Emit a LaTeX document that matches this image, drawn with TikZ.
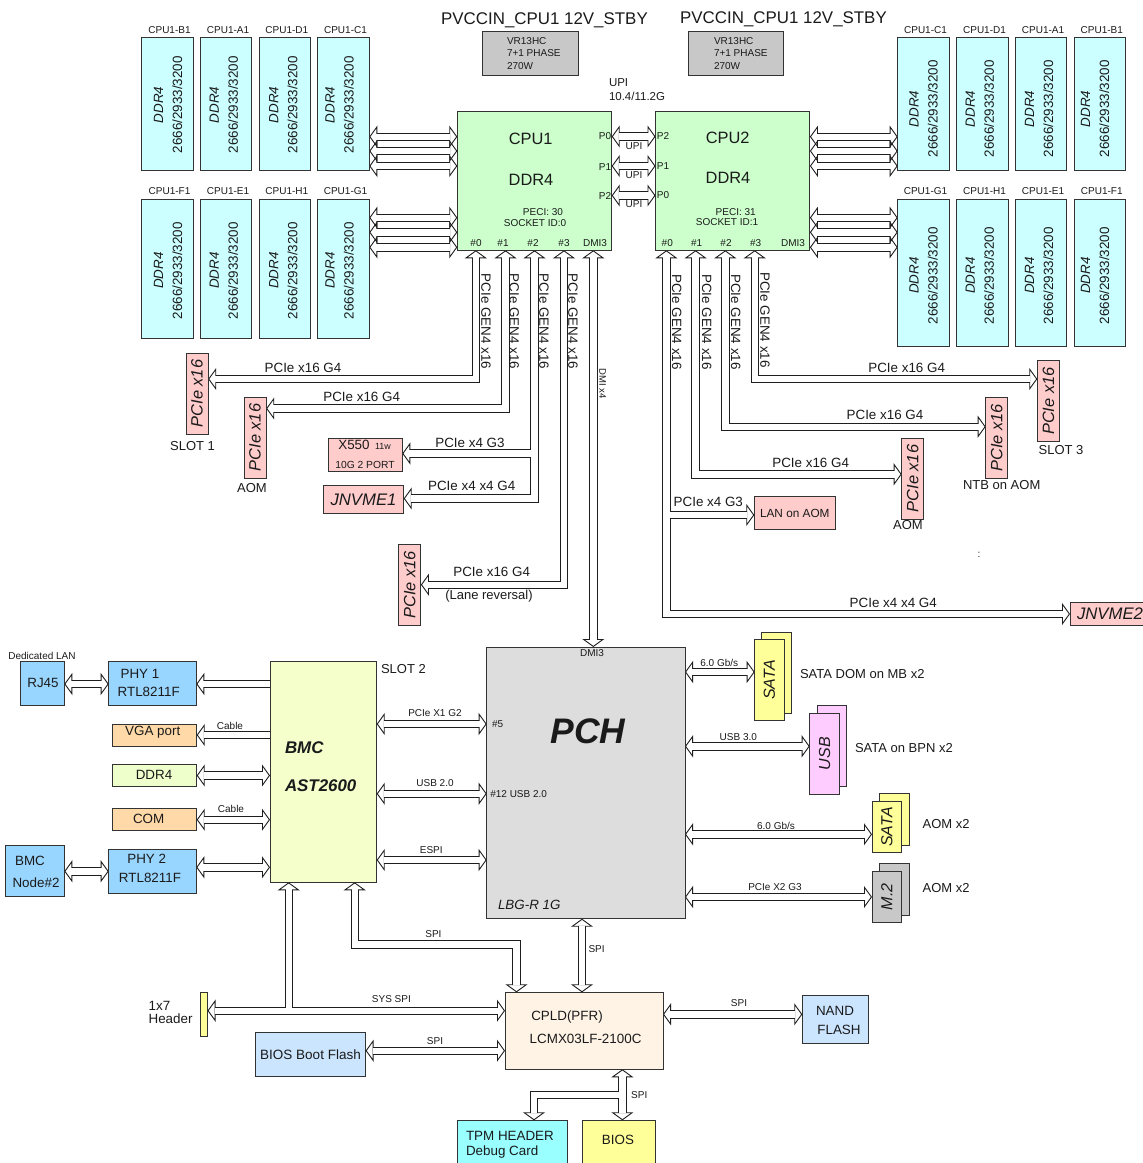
\documentclass[tikz,border=0pt]{standalone}
\usepackage{fontspec}
\setmainfont{Liberation Sans}
\usetikzlibrary{arrows.meta,backgrounds}
\definecolor{wire}{HTML}{1E1E1E}
\definecolor{edge}{HTML}{333333}
\definecolor{ink}{HTML}{1A1A1A}
\definecolor{dimmfill}{HTML}{CCFFFF}
\definecolor{cpufill}{HTML}{CCFFCC}
\definecolor{grayfill}{HTML}{C8C8C8}
\definecolor{slotfill}{HTML}{FFCCCC}
\definecolor{pchfill}{HTML}{DDDDDD}
\definecolor{bmcfill}{HTML}{F5FFCC}
\definecolor{phyfill}{HTML}{99D6FF}
\definecolor{portfill}{HTML}{FFD9A8}
\definecolor{ramfill}{HTML}{EEFFCC}
\definecolor{cpldfill}{HTML}{FFF3E6}
\definecolor{flashfill}{HTML}{CCE5FF}
\definecolor{tpmfill}{HTML}{99FFFF}
\definecolor{biosfill}{HTML}{FFFF99}
\definecolor{usbfill}{HTML}{FFCCFF}
\tikzset{
  box/.style={draw=edge, line width=.9pt, anchor=north west, inner sep=0pt, outer sep=0pt, text=ink},
  dims/.style 2 args={minimum width=#1pt, minimum height=#2pt},
  fs/.style={font=\fontsize{#1}{#1}\selectfont},
  lbl/.style={inner sep=0pt, outer sep=0pt, text=ink, fs=13.4},
  note/.style={lbl, fs=10},
  slot/.style={box, fill=slotfill, dims={22.2}{81}, font=\fontsize{16.4}{16.4}\selectfont\itshape},
  dimmtxt/.style={rotate=90, align=center, inner sep=0pt, text=ink, font=\fontsize{13.4}{19}\selectfont},
  bus/.style={<->, draw=wire, line width=8.4pt, postaction={draw=white, -, line width=6.4pt, shorten >=7pt, shorten <=7pt}},
  busto/.style={->, draw=wire, line width=8.4pt, postaction={draw=white, -, line width=6.4pt, shorten >=7pt}},
  tap/.style={->, draw=wire, line width=8.4pt, shorten <=4.2pt, postaction={draw=white, -, line width=6.4pt, shorten >=7pt, shorten <=0pt}},
}
\newcommand{\vtxt}[1]{\rotatebox{90}{#1}}
\newcommand{\dimm}[7]{%
  \node[box, fill=dimmfill, dims={51.6}{#4}] (#1) at (#2,#3) {};
  \node[dimmtxt] (#1txt) at ([xshift=#6pt,yshift=#7pt]#1.center) {\textit{DDR4}\\2666/2933/3200};
  \node[note] (#1lbl) at ([xshift=2pt,yshift=8pt]#1.north) {#5};
}

\begin{document}
\begin{tikzpicture}[x=1pt, y=-1pt, >={Triangle[open,length=8pt,width=22pt,line width=.9pt]}]
    \useasboundingbox (0,0) rectangle (1143,1163);

    % memory
    \dimm{lb}{141.7}{37.7}{132.3}{CPU1-B1}{.5}{-1}
    \dimm{la}{200.3}{37.7}{132.3}{CPU1-A1}{-2.2}{-1}
    \dimm{ld}{259}{37.7}{132.3}{CPU1-D1}{-1.4}{-1}
    \dimm{lc}{317.7}{37.7}{132.3}{CPU1-C1}{-3.8}{-1}
    \dimm{lf}{141.7}{199.3}{139.4}{CPU1-F1}{.5}{-1.7}
    \dimm{le}{200.3}{199.3}{139.4}{CPU1-E1}{-2.2}{-1.7}
    \dimm{lh}{259}{199.3}{139.4}{CPU1-H1}{-1.4}{-1.7}
    \dimm{lg}{317.7}{199.3}{139.4}{CPU1-G1}{-3.8}{-1.7}
    \dimm{rc}{897.7}{37.7}{132.3}{CPU1-C1}{0}{-5}
    \dimm{rd}{956.7}{37.7}{132.3}{CPU1-D1}{-2.7}{-5}
    \dimm{ra}{1015.3}{37.7}{132.3}{CPU1-A1}{-2}{-5}
    \dimm{rb}{1074}{37.7}{132.3}{CPU1-B1}{-4.8}{-5}
    \dimm{rg}{897.7}{199.3}{146.7}{CPU1-G1}{0}{-3}
    \dimm{rh}{956.7}{199.3}{146.7}{CPU1-H1}{-2.7}{-3}
    \dimm{re}{1015.3}{199.3}{146.7}{CPU1-E1}{-2}{-3}
    \dimm{rf}{1074}{199.3}{146.7}{CPU1-F1}{-4.8}{-3}

    % power
    \node[lbl, fs=16.9] (pwrone) at (544.5,20) {PVCCIN\_CPU1 12V\_STBY};
    \node[lbl, fs=16.9] (pwrtwo) at (783.5,19) {PVCCIN\_CPU1 12V\_STBY};
    \node[box, fill=grayfill, dims={95.3}{44}] (vrone) at (482.7,31) {};
    \node[box, fill=grayfill, dims={95.3}{44}] (vrtwo) at (688,31) {};
    \node[lbl, anchor=west, align=left, font=\fontsize{10}{12.5}\selectfont] (vronetxt) at (507,53.5) {VR13HC\\7+1 PHASE\\270W};
    \node[lbl, anchor=west, align=left, font=\fontsize{10}{12.5}\selectfont] (vrtwotxt) at (714,53.5) {VR13HC\\7+1 PHASE\\270W};
    \node[lbl, anchor=west, align=left, font=\fontsize{11.5}{14}\selectfont] (upi) at (609,90) {UPI\\10.4/11.2G};

    % sockets
    \node[box, fill=cpufill, dims={154.4}{139.3}] (cpuone) at (457.3,111) {};
    \node[box, fill=cpufill, dims={154.4}{139.3}] (cputwo) at (655.5,111) {};
    \node[lbl, fs=16.4] (cpuonea) at (530.7,139) {CPU1};
    \node[lbl, fs=16.4] (cpuoneb) at (531,180) {DDR4};
    \node[note] (cpuonec) at (543,212) {PECI: 30};
    \node[note] (cpuoned) at (535,223) {SOCKET ID:0};
    \node[lbl, fs=16.4] (cputwoa) at (727.7,138) {CPU2};
    \node[lbl, fs=16.4] (cputwob) at (728,178) {DDR4};
    \node[note] (cputwoc) at (735.7,212) {PECI: 31};
    \node[note] (cputwod) at (727,222) {SOCKET ID:1};
    \node[note] (aportz) at (476,243) {\#0};
    \node[note] (aporta) at (503,243) {\#1};
    \node[note] (aportb) at (533,243) {\#2};
    \node[note] (aportc) at (564,243) {\#3};
    \node[note] (aportd) at (595,243) {DMI3};
    \node[note] (bportz) at (667.3,243) {\#0};
    \node[note] (bporta) at (696.7,243) {\#1};
    \node[note] (bportb) at (726,243) {\#2};
    \node[note] (bportc) at (755.7,243) {\#3};
    \node[note] (bportd) at (793,243) {DMI3};
    \node[note] (apz) at (605,136) {P0};
    \node[note] (apa) at (605,167) {P1};
    \node[note] (apb) at (605,196) {P2};
    \node[note] (bpb) at (663,136) {P2};
    \node[note] (bpa) at (663,166) {P1};
    \node[note] (bpz) at (663,195) {P0};
    \node[note] (upia) at (634,146) {UPI};
    \node[note] (upib) at (634,175) {UPI};
    \node[note] (upic) at (634,204) {UPI};

    % riser labels
    \node[lbl, rotate=-90] (gena) at (486,321.5) {PCIe GEN4 x16};
    \node[lbl, rotate=-90] (genb) at (514.3,321.5) {PCIe GEN4 x16};
    \node[lbl, rotate=-90] (genc) at (544,321.5) {PCIe GEN4 x16};
    \node[lbl, rotate=-90] (gend) at (573,321.5) {PCIe GEN4 x16};
    \node[lbl, rotate=-90] (gene) at (676.7,322) {PCIe GEN4 x16};
    \node[lbl, rotate=-90] (genf) at (706.7,322) {PCIe GEN4 x16};
    \node[lbl, rotate=-90] (geng) at (735.7,322) {PCIe GEN4 x16};
    \node[lbl, rotate=-90] (genh) at (765,320) {PCIe GEN4 x16};
    \node[note, rotate=-90, fs=9.5] (dmilbl) at (602.7,383.6) {DMI x4};

    % slots, left
    \node[slot] (slota) at (186,353) {\vtxt{PCIe x16}};
    \node[slot] (slotb) at (244,397) {\vtxt{PCIe x16}};
    \node[slot] (slotc) at (398.7,544.3) {\vtxt{PCIe x16}};
    \node[box, fill=slotfill, dims={73.6}{33.3}] (xnic) at (328.7,438) {};
    \node[box, fill=slotfill, dims={80.4}{27.6}, font=\fontsize{16.7}{16.7}\selectfont\itshape] (nvmea) at (323.3,485.7) {JNVME1};
    \node[lbl] (xnica) at (354,445) {X550};
    \node[lbl, fs=8.9] (xnicb) at (383,446) {11w};
    \node[lbl, fs=10.3] (xnicc) at (365,465.3) {10G 2 PORT};
    \node[lbl, fs=13] (slotalbl) at (192.5,446) {SLOT 1};
    \node[lbl, fs=13] (slotblbl) at (252,488) {AOM};
    \node[lbl] (linka) at (303,368) {PCIe x16 G4};
    \node[lbl] (linkb) at (361.7,397) {PCIe x16 G4};
    \node[lbl] (linkc) at (470,443.3) {PCIe x4 G3};
    \node[lbl] (linkd) at (471.7,486) {PCIe x4 x4 G4};
    \node[lbl] (linke) at (491.7,572) {PCIe x16 G4};
    \node[lbl, fs=13] (lanerev) at (489,595.7) {(Lane reversal)};

    % slots, right
    \node[slot] (slotd) at (1037.3,360.7) {\vtxt{PCIe x16}};
    \node[slot] (slote) at (985.7,397.3) {\vtxt{PCIe x16}};
    \node[slot] (slotf) at (901.7,438) {\vtxt{PCIe x16}};
    \node[box, fill=slotfill, dims={81}{33}, font=\fontsize{11.8}{11.8}\selectfont] (lanaom) at (754.3,496.7) {LAN on AOM};
    \node[box, fill=slotfill, dims={80}{22.3}, font=\fontsize{16.7}{16.7}\selectfont\itshape] (nvmeb) at (1070,602.7) {JNVME2};
    \node[lbl, fs=13] (slotdlbl) at (1061,450) {SLOT 3};
    \node[lbl, fs=13] (slotelbl) at (1001.7,485.3) {NTB on AOM};
    \node[lbl, fs=13] (slotflbl) at (908,525) {AOM};
    \node[lbl] (linkf) at (906.7,368) {PCIe x16 G4};
    \node[lbl] (linkg) at (885,415.3) {PCIe x16 G4};
    \node[lbl] (linkh) at (810.7,463.3) {PCIe x16 G4};
    \node[lbl] (linki) at (708.3,502.3) {PCIe x4 G3};
    \node[lbl] (linkj) at (893.3,603.3) {PCIe x4 x4 G4};
    \node[note] (dots) at (979,555) {:};

    % chipset
    \node[box, fill=pchfill, dims={198.3}{271.7}] (pch) at (486.7,647) {};
    \node[lbl, font=\fontsize{35.5}{35.5}\selectfont\bfseries\itshape] (pchname) at (588,731) {PCH};
    \node[note] (pchdmi) at (592,653) {DMI3};
    \node[note, anchor=west] (pcha) at (492,724.3) {\#5};
    \node[note, anchor=west] (pchb) at (490.3,794.3) {\#12 USB 2.0};
    \node[lbl, anchor=west, font=\fontsize{13.4}{13.4}\selectfont\itshape] (pchc) at (498,905) {LBG-R 1G};

    % storage, right of the chipset
    \node[box, fill=biosfill, dims={29.6}{81}] (sataback) at (761.7,632.3) {};
    \node[box, fill=biosfill, dims={29.3}{80.6}, font=\fontsize{16}{16}\selectfont\itshape] (satafront) at (754.7,639.7) {\vtxt{SATA}};
    \node[box, fill=usbfill, dims={29.7}{81}] (usbback) at (817,705.7) {};
    \node[box, fill=usbfill, dims={29.6}{80.7}, font=\fontsize{16}{16}\selectfont\itshape] (usbfront) at (809.7,713.3) {\vtxt{USB}};
    \node[box, fill=biosfill, dims={29.7}{51.6}] (aomback) at (879.3,793.7) {};
    \node[box, fill=biosfill, dims={29.7}{51.4}, font=\fontsize{16}{16}\selectfont\itshape] (aomfront) at (872,801.3) {\vtxt{SATA}};
    \node[box, fill=grayfill, dims={29.7}{51.7}] (mtwoback) at (879.3,863.3) {};
    \node[box, fill=grayfill, dims={29.7}{51.7}, font=\fontsize{16}{16}\selectfont\itshape] (mtwofront) at (872,871) {\vtxt{M.2}};
    \node[lbl, fs=13, anchor=west] (satalbl) at (800,674.3) {SATA DOM on MB x2};
    \node[lbl, fs=13, anchor=west] (usblbl) at (855,748.3) {SATA on BPN x2};
    \node[lbl, fs=13, anchor=west] (aomlbl) at (922.7,824.3) {AOM x2};
    \node[lbl, fs=13, anchor=west] (mtwolbl) at (922.7,888) {AOM x2};
    \node[note] (ratea) at (719.3,663.3) {6.0 Gb/s};
    \node[note] (rateb) at (738.3,737.3) {USB 3.0};
    \node[note] (ratec) at (776,825.7) {6.0 Gb/s};
    \node[note] (rated) at (775,886.7) {PCIe X2 G3};

    % management side
    \node[box, fill=bmcfill, dims={106.7}{220.6}] (bmc) at (270,661.7) {};
    \node[lbl, anchor=west, font=\fontsize{16.9}{16.9}\selectfont\bfseries\itshape] (bmca) at (285,748) {BMC};
    \node[lbl, anchor=west, font=\fontsize{16.9}{16.9}\selectfont\bfseries\itshape] (bmcb) at (285,786) {AST2600};
    \node[lbl, fs=13, anchor=west] (slotlbl) at (381,669) {SLOT 2};
    \node[note] (lanlbl) at (42,655.7) {Dedicated LAN};
    \node[box, fill=phyfill, dims={44}{44}] (rj) at (20.3,661.7) {};
    \node[lbl] (rjtxt) at (43,683) {RJ45};
    \node[box, fill=phyfill, dims={87.6}{44}] (phya) at (108.7,661.7) {};
    \node[lbl] (phyaa) at (140,674.3) {PHY 1};
    \node[lbl] (phyab) at (148.7,691.7) {RTL8211F};
    \node[box, fill=portfill, dims={84.7}{22.3}] (vga) at (112,724) {};
    \node[lbl] (vgatxt) at (152.7,732.7) {VGA port};
    \node[box, fill=ramfill, dims={84.7}{22.3}] (ram) at (112,764.3) {};
    \node[lbl] (ramtxt) at (154,775.3) {DDR4};
    \node[box, fill=portfill, dims={84.7}{22.3}] (com) at (112,808.3) {};
    \node[lbl] (comtxt) at (148.7,819) {COM};
    \node[box, fill=phyfill, dims={58.6}{51.4}] (node) at (5.7,845.3) {};
    \node[lbl] (nodea) at (30,861) {BMC};
    \node[lbl] (nodeb) at (36,882.3) {Node\#2};
    \node[box, fill=phyfill, dims={87.6}{44.3}] (phyb) at (108.7,849) {};
    \node[lbl] (phyba) at (146.7,859.3) {PHY 2};
    \node[lbl] (phybb) at (150,878.3) {RTL8211F};
    \node[note] (cablea) at (230,725.7) {Cable};
    \node[note] (cableb) at (231,809.3) {Cable};
    \node[note] (busa) at (435,713.3) {PCIe X1 G2};
    \node[note] (busb) at (435,783.3) {USB 2.0};
    \node[note] (busc) at (431.3,849.7) {ESPI};

    % flash and debug
    \node[box, fill=cpldfill, dims={158}{77}] (cpld) at (505,992.3) {};
    \node[lbl] (cplda) at (567,1017.3) {CPLD(PFR)};
    \node[lbl] (cpldb) at (585.6,1038.7) {LCMX03LF-2100C};
    \node[box, fill=biosfill, dims={7.2}{43.7}] (hdr) at (200.3,992.3) {};
    \node[lbl, anchor=west, align=left, font=\fontsize{13.4}{13.6}\selectfont] (hdrlbl) at (148.6,1012.5) {1x7\\Header};
    \node[box, fill=flashfill, dims={110.2}{44}, font=\fontsize{13.5}{13.5}\selectfont] (bootflash) at (255.4,1032.3) {BIOS Boot Flash};
    \node[box, fill=flashfill, dims={66.4}{47.6}] (nand) at (802.3,995.7) {};
    \node[lbl] (nanda) at (835,1011.3) {NAND};
    \node[lbl] (nandb) at (839,1030) {FLASH};
    \node[box, fill=tpmfill, dims={110.3}{60}] (tpm) at (457,1120.3) {};
    \node[lbl, anchor=west, align=left, font=\fontsize{13.4}{15.3}\selectfont] (tpmtxt) at (466,1144.7) {TPM HEADER\\Debug Card};
    \node[box, fill=biosfill, dims={73.5}{60}] (bios) at (582,1120.3) {};
    \node[lbl] (biostxt) at (618,1140) {BIOS};
    \node[note] (spia) at (433.4,934.3) {SPI};
    \node[note] (spib) at (596.6,949) {SPI};
    \node[note] (spic) at (391.4,999.3) {SYS SPI};
    \node[note] (spid) at (435,1041.3) {SPI};
    \node[note] (spie) at (739,1003.3) {SPI};
    \node[note] (spif) at (639.3,1095) {SPI};

    \begin{scope}[on background layer]
    % memory channels
    \foreach \lvl in {136.7,151,166,217.7,232.3,247.3} {
      \draw[bus] (cpuone.west |- 0,\lvl) -- (lc.east |- 0,\lvl);
      \draw[bus] (cputwo.east |- 0,\lvl) -- (rc.west |- 0,\lvl);
    }
    \draw[bus] (cpuone.east |- 0,136.5) -- (cputwo.west |- 0,136.5);
    \draw[bus] (cpuone.east |- 0,166) -- (cputwo.west |- 0,166);
    \draw[bus] (cpuone.east |- 0,195.5) -- (cputwo.west |- 0,195.5);

    % CPU1 lanes
    \draw[bus] (cpuone.south -| 475.8,0) |- (slota.east |- 0,379);
    \draw[bus] (cpuone.south -| 505.5,0) |- (slotb.east |- 0,408.5);
    \draw[bus] (cpuone.south -| 534.5,0) |- (nvmea.east |- 0,498.5);
    \draw[tap] (534.5,453.5) -- (xnic.east |- 0,453.5);
    \draw[bus] (cpuone.south -| 564,0) |- (slotc.east |- 0,584.7);
    \draw[bus] (cpuone.south -| 593.3,0) -- (pch.north -| 593.3,0);

    % CPU2 lanes
    \draw[bus] (cputwo.south -| 666.4,0) |- (nvmeb.west |- 0,614);
    \draw[tap] (666.4,515) -- (lanaom.west |- 0,515);
    \draw[bus] (cputwo.south -| 695.6,0) |- (slotf.west |- 0,474.3);
    \draw[bus] (cputwo.south -| 725.3,0) |- (slote.west |- 0,426.7);
    \draw[bus] (cputwo.south -| 754.7,0) |- (slotd.west |- 0,379);

    % chipset
    \draw[bus] (pch.east |- 0,672) -- (satafront.west |- 0,672);
    \draw[bus] (pch.east |- 0,746.3) -- (usbfront.west |- 0,746.3);
    \draw[bus] (pch.east |- 0,834.3) -- (aomfront.west |- 0,834.3);
    \draw[bus] (pch.east |- 0,897) -- (mtwofront.west |- 0,897);
    \draw[bus] (bmc.east |- 0,724) -- (pch.west |- 0,724);
    \draw[bus] (bmc.east |- 0,793.7) -- (pch.west |- 0,793.7);
    \draw[bus] (bmc.east |- 0,860) -- (pch.west |- 0,860);

    % management
    \draw[bus] (rj.east |- 0,684) -- (phya.west |- 0,684);
    \draw[busto] (bmc.west |- 0,684) -- (phya.east |- 0,684);
    \draw[busto] (bmc.west |- 0,735) -- (vga.east |- 0,735);
    \draw[bus] (ram.east |- 0,775.5) -- (bmc.west |- 0,775.5);
    \draw[bus] (com.east |- 0,819.7) -- (bmc.west |- 0,819.7);
    \draw[bus] (node.east |- 0,871.3) -- (phyb.west |- 0,871.3);
    \draw[bus] (phyb.east |- 0,867.3) -- (bmc.west |- 0,867.3);

    % flash and debug
    \draw[bus] (hdr.east |- 0,1010.7) -- (cpld.west |- 0,1010.7);
    \draw[tap] (288.7,1010.7) -- (bmc.south -| 288.7,0);
    \draw[bus] (bmc.south -| 354.7,0) |- (516.5,944.3) -- (cpld.north -| 516.5,0);
    \draw[bus] (pch.south -| 582,0) -- (cpld.north -| 582,0);
    \draw[bus] (bootflash.east |- 0,1050.7) -- (cpld.west |- 0,1050.7);
    \draw[bus] (cpld.east |- 0,1014.3) -- (nand.west |- 0,1014.3);
    \draw[bus] (cpld.south -| 622.4,0) -- (bios.north -| 622.4,0);
    \draw[tap] (622.4,1095) -| (tpm.north -| 534,0);
    \end{scope}
\end{tikzpicture}
\end{document}
